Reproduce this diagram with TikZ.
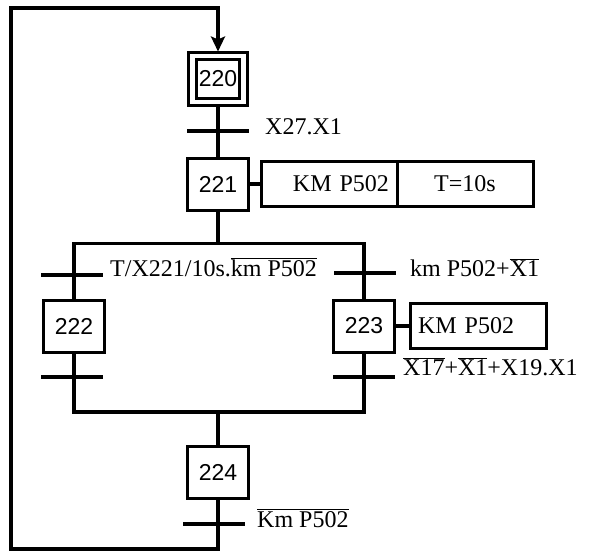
\documentclass[tikz,border=0pt]{standalone}
\usepackage{fontspec}
\setmainfont{Liberation Serif}
\newfontfamily\grafsans{Liberation Sans}
\usetikzlibrary{arrows.meta, positioning}
\tikzset{
  >={Stealth[length=15pt, width=14pt, inset=3pt]},
  link/.style={line width=3.5pt, draw=black},
  stepbox/.style={rectangle, draw=black, line width=3pt, minimum width=61pt,
                  minimum height=52pt, inner sep=0pt, font=\fontsize{23}{26}\selectfont\grafsans},
  initstep/.style={stepbox, minimum width=43pt, minimum height=39pt},
  initframe/.style={rectangle, draw=black, line width=3pt, minimum width=59pt,
                    minimum height=52pt, inner sep=0pt},
  actbox/.style={rectangle, draw=black, line width=3pt, minimum width=136pt,
                 minimum height=45pt, inner sep=0pt, outer sep=0pt, font=\fontsize{24}{28}\selectfont},
  trans/.style={rectangle, fill=black, minimum width=62pt, minimum height=4pt, inner sep=0pt},
  cond/.style={anchor=base west, inner sep=0pt, font=\fontsize{24}{28}\selectfont},
}

\begin{document}
\begin{tikzpicture}[x=1pt,y=-1pt]
  \useasboundingbox (0,0) rectangle (592,551);

  % steps
  \node[initframe] (s220f) at (218,79) {};
  \node[initstep] (s220) at (s220f) {220};
  \node[stepbox] (s221) at (218,184) {221};
  \node[stepbox] (s222) at (74,326) {222};
  \node[stepbox] (s223) at (364,326) {223};
  \node[stepbox] (s224) at (218,472) {224};

  % actions
  \node[actbox, right=11pt of s221, text width=120pt, align=right] (a221k) {KM P502};
  \node[actbox, right=0pt of a221k] (a221t) {T=10s};
  \node[actbox, right=14pt of s223, text width=120pt, align=left] (a223) {KM P502};
  \draw[link] (s221) -- (a221k);
  \draw[link] (s223) -- (a223);

  % links
  \coordinate (div) at (218,243.5);
  \coordinate (conv) at (218,412);
  \coordinate (loopbl) at (11,549);
  \coordinate (looptl) at (11,8);
  \draw[link] (s220f) -- (s221);
  \draw[link] (s221) -- (div);
  \draw[link] (s222) |- (div) -| (s223);
  \draw[link] (s222) |- (conv) -| (s223);
  \draw[link] (conv) -- (s224);
  \draw[link, ->] (s224) |- (loopbl) -- (looptl) -| (s220f);

  % transitions
  \foreach \n/\x/\y in {t1/218/131, t222a/72/275, t222b/72/377, t223a/365/273, t223b/364/377, t224/214/524}
    \node[trans] (\n) at (\x,\y) {};

  \node[cond] (c1) at (265,135) {X27.X1};
  \node[cond] (c222) at (110,276) {T/X221/10s.$\overline{\mbox{km P502}}$};
  \node[cond] (c223a) at (410,276) {km P502+$\overline{\mbox{X1}}$};
  \node[cond] (c223b) at (403,375) {$\overline{\mbox{X17}}$+$\overline{\mbox{X1}}$+X19.X1};
  \node[cond] (c224) at (257,527) {$\overline{\mbox{Km P502}}$};
\end{tikzpicture}
\end{document}
